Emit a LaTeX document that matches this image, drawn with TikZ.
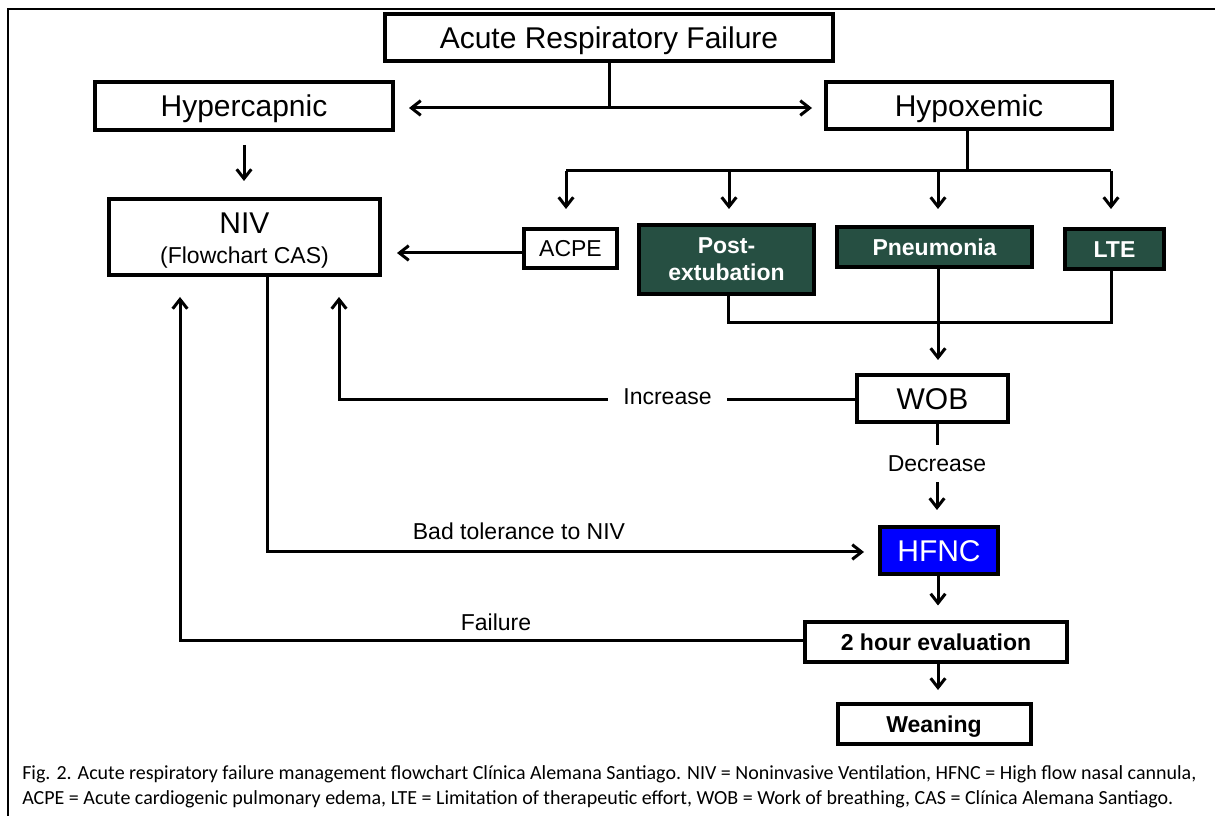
\documentclass[tikz,border=0pt]{standalone}
\usepackage{fontspec}
\setmainfont{Liberation Sans}
\newfontfamily\capfont{Carlito}
\usetikzlibrary{arrows.meta}
\definecolor{darkgreen}{HTML}{264F42}
\definecolor{hfblue}{HTML}{0000FF}
\begin{document}
\begin{tikzpicture}[x=0.75pt,y=-0.75pt,
  >={Straight Barb[length=7pt,width=11pt]},
  box/.style={draw, line width=3pt, inner sep=0pt, align=center, font=\fontsize{22.5}{27}\selectfont},
  sbox/.style={box, font=\fontsize{17.25}{20}\selectfont},
  bbox/.style={box, font=\fontsize{17.25}{20}\selectfont\bfseries},
  gbox/.style={box, fill=darkgreen, text=white, font=\fontsize{17.25}{20.25}\selectfont\bfseries},
  capL/.style={text height=16.1pt, text depth=0pt},
  capS/.style={text height=12.35pt, text depth=0pt},
  conn/.style={line width=2.25pt},
  lbl/.style={inner sep=0pt, font=\fontsize{17.25}{20}\selectfont},
  frameline/.style={line width=1.8pt},
  captxt/.style={anchor=west, inner sep=0pt, font=\capfont\fontsize{15}{18}\selectfont}
]
\useasboundingbox (0,0) rectangle (1215,816);
\draw[frameline] (8,816) -- (8,9) -- (1215,9);

% boxes
\node[box, capL, minimum width={448*0.75pt}, minimum height={47*0.75pt}] (arf) at (609,37.5) {Acute Respiratory Failure};
\node[box, capL, minimum width={298*0.75pt}, minimum height={48*0.75pt}] (hypc) at (244,106) {Hypercapnic};
\node[box, capL, minimum width={286*0.75pt}, minimum height={47*0.75pt}] (hypx) at (969,105.5) {Hypoxemic};
\node[box, minimum width={271*0.75pt}, minimum height={76*0.75pt}] (niv) at (244.5,237) {\rule{0pt}{20.6pt}NIV\\[-5pt]{\fontsize{17.25}{20}\selectfont (Flowchart CAS)}};
\node[sbox, capS, minimum width={93*0.75pt}, minimum height={39*0.75pt}] (acpe) at (570.5,248.5) {ACPE};
\node[gbox, minimum width={175*0.75pt}, minimum height={69*0.75pt}] (post) at (726.5,259.5) {Post-\\extubation};
\node[gbox, capS, minimum width={195*0.75pt}, minimum height={40*0.75pt}] (pneu) at (934.5,247) {Pneumonia};
\node[gbox, capS, minimum width={99*0.75pt}, minimum height={40*0.75pt}] (lte) at (1114.5,249) {LTE};
\node[box, capL, minimum width={151*0.75pt}, minimum height={47*0.75pt}] (wob) at (932.5,398.5) {WOB};
\node[box, capL, fill=hfblue, text=white, minimum width={118*0.75pt}, minimum height={47*0.75pt}] (hfnc) at (939,550.5) {HFNC};
\node[bbox, capS, minimum width={262*0.75pt}, minimum height={40*0.75pt}] (two) at (936,642.5) {2 hour evaluation};
\node[bbox, capS, minimum width={193*0.75pt}, minimum height={40*0.75pt}] (wean) at (934,724) {Weaning};

% labels
\node[lbl, minimum width={119*0.75pt}] (inc) at (667.5,397) {Increase};
\node[lbl, minimum height={37*0.75pt}] (dec) at (937,463.5) {Decrease};
\node[lbl] (bad) at (519,531) {Bad tolerance to NIV};
\node[lbl] (fail) at (496,622) {Failure};

% coordinates
\coordinate (split) at (609,108);
\coordinate (hb) at (967,171);
\coordinate (d1) at (566,171);
\coordinate (d2) at (729,171);
\coordinate (d3) at (938,171);
\coordinate (d4) at (1111,171);
\coordinate (j1) at (728,323);
\coordinate (j2) at (1111,323);
\coordinate (ic) at (339,400);
\coordinate (bt) at (267,552);
\coordinate (fc) at (180,641);

% connectors
\draw[conn] (arf.south) -- (split);
\draw[conn,<->,shorten <=10.5pt,shorten >=9pt] (hypc.east |- split) -- (hypx.west |- split);
\draw[conn,->,shorten <=9.75pt,shorten >=12pt] (hypc.south) -- (niv.north -| hypc.south);
\draw[conn] (hypx.south -| hb) -- (hb);
\draw[conn] (d1) -- (d4);
\draw[conn,->,shorten >=13.5pt] (d1) -- (d1 |- acpe.north);
\draw[conn,->,shorten >=10.5pt] (d2) -- (d2 |- post.north);
\draw[conn,->,shorten >=12pt] (d3) -- (d3 |- pneu.north);
\draw[conn,->,shorten >=13.5pt] (d4) -- (d4 |- lte.north);
\draw[conn,->,shorten >=11.25pt] (acpe.west |- 0,253) -- (niv.east |- 0,253);
\draw[conn] (post.south -| j1) -- (j1) -- (j2) -- (lte.south -| j2);
\draw[conn,->,shorten >=9.75pt] (pneu.south -| d3) -- (wob.north -| d3);
\draw[conn] (wob.west |- ic) -- (inc.east |- ic);
\draw[conn,->,shorten >=15pt] (inc.west |- ic) -- (ic) -- (niv.south -| ic);
\draw[conn] (wob.south -| dec) -- (dec.north);
\draw[conn,->,shorten >=11.25pt] (dec.south) -- (hfnc.north -| dec);
\draw[conn,->,shorten >=10.5pt] (niv.south -| bt) -- (bt) -- (hfnc.west |- bt);
\draw[conn,->,shorten >=11.25pt] (hfnc.south -| d3) -- (two.north -| d3);
\draw[conn,->,shorten >=15pt] (two.west |- fc) -- (fc) -- (niv.south -| fc);
\draw[conn,->,shorten >=9pt] (two.south -| d3) -- (wean.north -| d3);

% caption
\node[captxt] (cap1) at (22,774) {Fig. 2. Acute respiratory failure management flowchart Clínica Alemana Santiago. NIV = Noninvasive Ventilation, HFNC = High flow nasal cannula,};
\node[captxt] (cap2) at (22,799) {ACPE = Acute cardiogenic pulmonary edema, LTE = Limitation of therapeutic effort, WOB = Work of breathing, CAS = Clínica Alemana Santiago.};
\end{tikzpicture}
\end{document}
